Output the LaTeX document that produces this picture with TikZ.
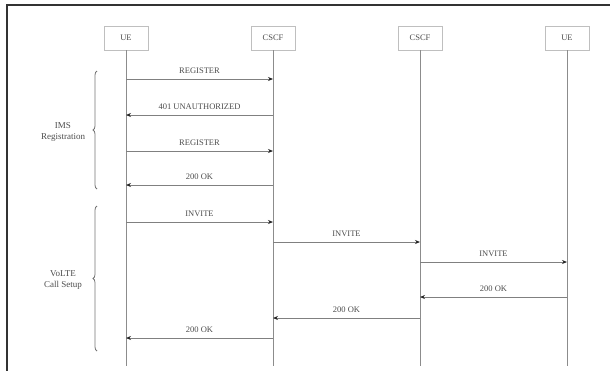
\documentclass[tikz,border=0pt]{standalone}
\usepackage{fontspec}
\setmainfont{Liberation Serif}
\usetikzlibrary{arrows.meta,decorations.pathreplacing}
\begin{document}
\begin{tikzpicture}[x=1pt,y=-1pt,
 actor/.style={draw=black!25, line width=0.6pt, minimum width=44pt, minimum height=24pt, inner sep=0pt, font=\fontsize{8.5}{10}\selectfont, text=black!70},
 life/.style={draw=black!45, line width=0.8pt},
 msg/.style={draw=black!50, line width=0.9pt, -{Stealth[length=5pt,width=4pt,black!85]}},
 mlabel/.style={font=\fontsize{8.5}{10}\selectfont, text=black!70, inner sep=0pt},
 brc/.style={draw=black!55, line width=0.8pt, decorate, decoration={brace, amplitude=4pt}},
 glabel/.style={font=\fontsize{9}{10.5}\selectfont, text=black!70, align=center, inner sep=0pt},
 frame/.style={draw=black!80, line width=1.6pt}
]
\useasboundingbox (0,0) rectangle (610,370);
\draw[frame] (7,372) -- (7,5) -- (612,5);

% actors
\node[actor] (u1) at (126,38) {UE};
\node[actor] (c1) at (273,38) {CSCF};
\node[actor] (c2) at (420,38) {CSCF};
\node[actor] (u2) at (567,38) {UE};

% lifeline ends
\coordinate (u1e) at (126,366);
\coordinate (c1e) at (273,366);
\coordinate (c2e) at (420,366);
\coordinate (u2e) at (567,366);
\draw[life] (u1.south) -- (u1e);
\draw[life] (c1.south) -- (c1e);
\draw[life] (c2.south) -- (c2e);
\draw[life] (u2.south) -- (u2e);

% message endpoints
\coordinate (m1a) at (126,79);  \coordinate (m1b) at (273,79);
\coordinate (m2a) at (273,115); \coordinate (m2b) at (126,115);
\coordinate (m3a) at (126,151); \coordinate (m3b) at (273,151);
\coordinate (m4a) at (273,185); \coordinate (m4b) at (126,185);
\coordinate (m5a) at (126,222); \coordinate (m5b) at (273,222);
\coordinate (m6a) at (273,242); \coordinate (m6b) at (420,242);
\coordinate (m7a) at (420,262); \coordinate (m7b) at (567,262);
\coordinate (m8a) at (567,297); \coordinate (m8b) at (420,297);
\coordinate (m9a) at (420,318); \coordinate (m9b) at (273,318);
\coordinate (m10a) at (273,338); \coordinate (m10b) at (126,338);

\draw[msg] (m1a) -- node[mlabel, above=5pt] (l1) {REGISTER} (m1b);
\draw[msg] (m2a) -- node[mlabel, above=5pt] (l2) {401 UNAUTHORIZED} (m2b);
\draw[msg] (m3a) -- node[mlabel, above=5pt] (l3) {REGISTER} (m3b);
\draw[msg] (m4a) -- node[mlabel, above=5pt] (l4) {200 OK} (m4b);
\draw[msg] (m5a) -- node[mlabel, above=5pt] (l5) {INVITE} (m5b);
\draw[msg] (m6a) -- node[mlabel, above=5pt] (l6) {INVITE} (m6b);
\draw[msg] (m7a) -- node[mlabel, above=5pt] (l7) {INVITE} (m7b);
\draw[msg] (m8a) -- node[mlabel, above=5pt] (l8) {200 OK} (m8b);
\draw[msg] (m9a) -- node[mlabel, above=5pt] (l9) {200 OK} (m9b);
\draw[msg] (m10a) -- node[mlabel, above=5pt] (l10) {200 OK} (m10b);

% braces
\coordinate (b1a) at (97,189); \coordinate (b1b) at (97,71);
\coordinate (b2a) at (97,351); \coordinate (b2b) at (97,206);
\draw[brc] (b1a) -- (b1b);
\draw[brc] (b2a) -- (b2b);
\node[glabel] (g1) at (63,132) {IMS\\Registration};
\node[glabel] (g2) at (63,280) {VoLTE\\Call Setup};
\end{tikzpicture}
\end{document}
